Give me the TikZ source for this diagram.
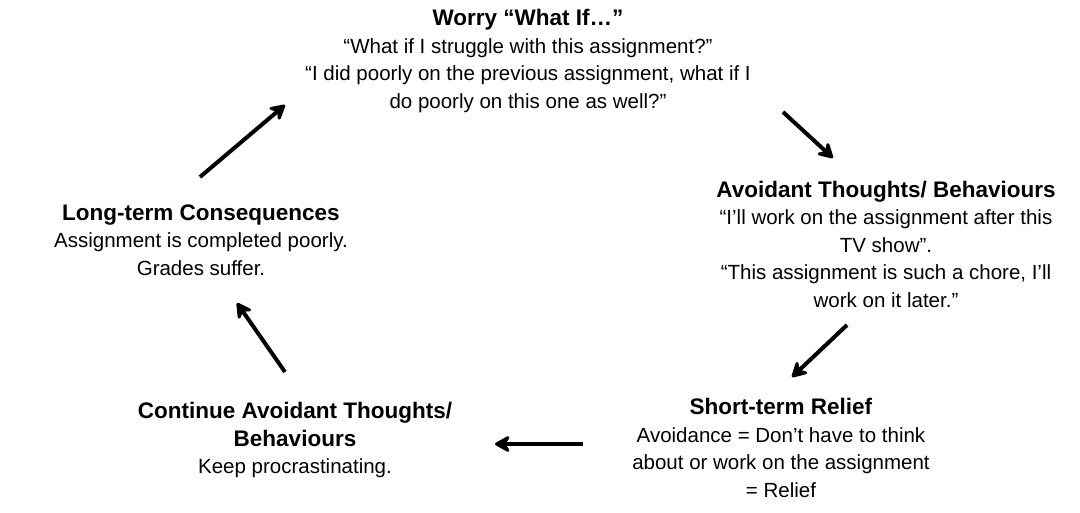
\documentclass[tikz,border=0pt]{standalone}
\usepackage{fontspec}
\setmainfont{Liberation Sans}
\usetikzlibrary{arrows.meta, positioning}

\newcommand{\stagetitle}[1]{{\fontsize{22.5}{27.5}\selectfont\bfseries #1}}

\begin{document}
\begin{tikzpicture}[
    x=1pt, y=-1pt,
    >={Stealth[length=19pt, width=21pt, inset=7pt, round]},
    stage/.style={align=center, inner sep=0pt, font=\fontsize{20.5}{27.5}\selectfont},
    cycarrow/.style={->, line width=4pt}
]
\useasboundingbox (0,0) rectangle (1080,512);

% Stages of the cycle
\node[stage] (worry) at (528,61) {\stagetitle{Worry “What If…”}\\ “What if I struggle with this assignment?”\\ “I did poorly on the previous assignment, what if I\\ do poorly on this one as well?”};
\node[stage] (avoid) at (886,244) {\stagetitle{Avoidant Thoughts/ Behaviours}\\ “I’ll work on the assignment after this\\ TV show”.\\ “This assignment is such a chore, I’ll\\ work on it later.”};
\node[stage] (relief) at (781,448) {\stagetitle{Short-term Relief}\\ Avoidance = Don’t have to think\\ about or work on the assignment\\ = Relief};
\node[stage] (cont) at (295,440) {\stagetitle{Continue Avoidant Thoughts/}\\ \stagetitle{Behaviours}\\ Keep procrastinating.};
\node[stage] (cons) at (201,240) {\stagetitle{Long-term Consequences}\\ Assignment is completed poorly.\\ Grades suffer.};

% Arrow ends
\coordinate (a1s) at (200,177); \coordinate (a1e) at (285,105);
\coordinate (a2s) at (783,112); \coordinate (a2e) at (833,158);
\coordinate (a3s) at (847,325); \coordinate (a3e) at (792,377);
\coordinate (a4s) at (583,444); \coordinate (a4e) at (495,444);
\coordinate (a5s) at (285,372); \coordinate (a5e) at (237,303);

% Cycle arrows
\draw[cycarrow] (a1s) -- (a1e);
\draw[cycarrow] (a2s) -- (a2e);
\draw[cycarrow] (a3s) -- (a3e);
\draw[cycarrow] (a4s) -- (a4e);
\draw[cycarrow] (a5s) -- (a5e);

\end{tikzpicture}
\end{document}
